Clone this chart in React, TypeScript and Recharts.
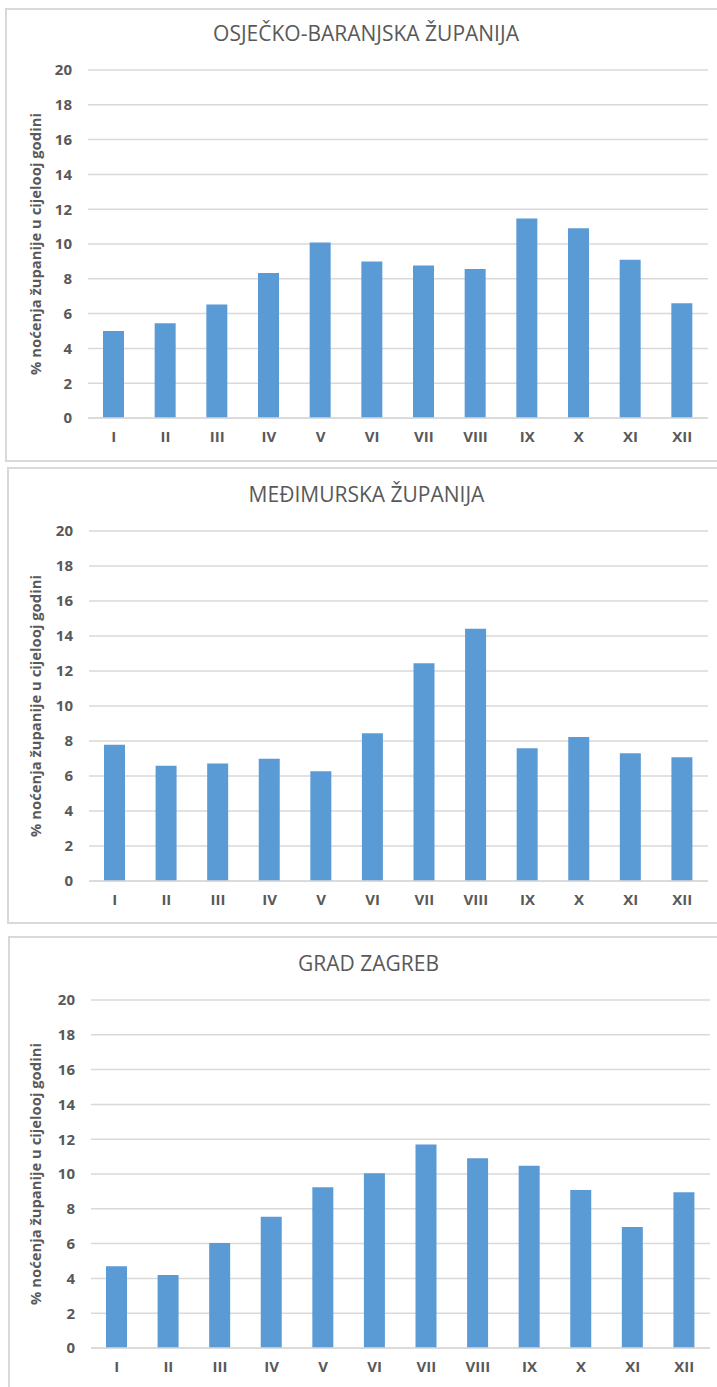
import React from "react";
import { BarChart, Bar, XAxis, YAxis, CartesianGrid } from "recharts";

const months = ["I", "II", "III", "IV", "V", "VI", "VII", "VIII", "IX", "X", "XI", "XII"];
const osijekValues = [5.0, 5.44, 6.53, 8.34, 10.09, 8.99, 8.77, 8.56, 11.47, 10.9, 9.09, 6.59];
const medjimurjeValues = [7.79, 6.58, 6.71, 6.99, 6.27, 8.44, 12.45, 14.41, 7.59, 8.23, 7.3, 7.07];
const zagrebValues = [4.7, 4.2, 6.03, 7.55, 9.24, 10.04, 11.7, 10.9, 10.48, 9.08, 6.96, 8.95];
const yTicks = [0, 2, 4, 6, 8, 10, 12, 14, 16, 18, 20];
const titles = ["OSJEČKO-BARANJSKA ŽUPANIJA", "MEĐIMURSKA ŽUPANIJA", "GRAD ZAGREB"];
const yLabel = "% noćenja županije u cijelooj godini";

const FONT = "'Open Sans', 'Noto Sans', sans-serif";
const TEXT = "#595959";
const GRID = "#d9d9d9";
const BAR = "#5b9bd5";

const build = (vals: number[]) => months.map((m, i) => ({ month: m, value: vals[i] }));

type PanelCfg = {
  data: { month: string; value: number }[];
  title: string;
  box: { left: number; top: number; height: number };
  chartTop: number;
  chartHeight: number;
  margin: { top: number; right: number; bottom: number; left: number };
  yWidth: number;
  titleTop: number;
  titleCenter: number;
};

const panels: PanelCfg[] = [
  {
    data: build(osijekValues),
    title: titles[0],
    box: { left: 5, top: 8, height: 454 },
    chartTop: 0,
    chartHeight: 460,
    margin: { top: 70, right: 9, bottom: 12, left: 0 },
    yWidth: 88,
    titleTop: 23,
    titleCenter: 366,
  },
  {
    data: build(medjimurjeValues),
    title: titles[1],
    box: { left: 7, top: 467, height: 457 },
    chartTop: 460,
    chartHeight: 470,
    margin: { top: 71, right: 9, bottom: 19, left: 0 },
    yWidth: 89,
    titleTop: 484,
    titleCenter: 366.5,
  },
  {
    data: build(zagrebValues),
    title: titles[2],
    box: { left: 8, top: 936, height: 470 },
    chartTop: 925,
    chartHeight: 462,
    margin: { top: 75, right: 7, bottom: 9, left: 0 },
    yWidth: 91,
    titleTop: 953,
    titleCenter: 368.5,
  },
];

const YLabel = (props: any) => {
  const vb = props.viewBox || {};
  const cx = 35;
  const cy = (vb.y || 0) + (vb.height || 0) / 2;
  return (
    <text
      x={cx}
      y={cy}
      transform={`rotate(-90, ${cx}, ${cy})`}
      textAnchor="middle"
      dominantBaseline="central"
      fill={TEXT}
      fontFamily={FONT}
      fontWeight="bold"
      fontSize={14.8}
    >
      {yLabel}
    </text>
  );
};

export default function App() {
  return (
    <div
      style={{
        position: "absolute",
        left: 0,
        top: 0,
        width: 717,
        height: 1387,
        overflow: "hidden",
        background: "#ffffff",
        fontFamily: FONT,
      }}
    >
      {panels.map((p, idx) => (
        <div
          key={"box" + idx}
          style={{
            position: "absolute",
            left: p.box.left,
            top: p.box.top,
            width: 730,
            height: p.box.height,
            border: `2px solid ${GRID}`,
            boxSizing: "border-box",
          }}
        />
      ))}
      {panels.map((p, idx) => (
        <div
          key={"title" + idx}
          style={{
            position: "absolute",
            left: p.titleCenter - 300,
            width: 600,
            top: p.titleTop,
            textAlign: "center",
            fontSize: 21,
            lineHeight: "21px",
            color: TEXT,
            fontFamily: FONT,
            whiteSpace: "nowrap",
          }}
        >
          {p.title}
        </div>
      ))}
      {panels.map((p, idx) => (
        <div key={"chart" + idx} style={{ position: "absolute", left: 0, top: p.chartTop }}>
          <BarChart width={717} height={p.chartHeight} data={p.data} margin={p.margin} barSize={21}>
            <CartesianGrid vertical={false} stroke={GRID} strokeWidth={1.5} />
            <XAxis
              dataKey="month"
              axisLine={{ stroke: GRID, strokeWidth: 1.5 }}
              tickLine={false}
              tickSize={0}
              tickMargin={13}
              interval={0}
              tick={{ fill: TEXT, fontSize: 15, fontWeight: "bold", fontFamily: FONT }}
            />
            <YAxis
              width={p.yWidth}
              domain={[0, 20]}
              ticks={yTicks}
              interval={0}
              axisLine={false}
              tickLine={false}
              tickSize={0}
              tickMargin={16}
              tick={{ fill: TEXT, fontSize: 15, fontWeight: "bold", fontFamily: FONT }}
              label={<YLabel />}
            />
            <Bar dataKey="value" fill={BAR} isAnimationActive={false} />
          </BarChart>
        </div>
      ))}
    </div>
  );
}
